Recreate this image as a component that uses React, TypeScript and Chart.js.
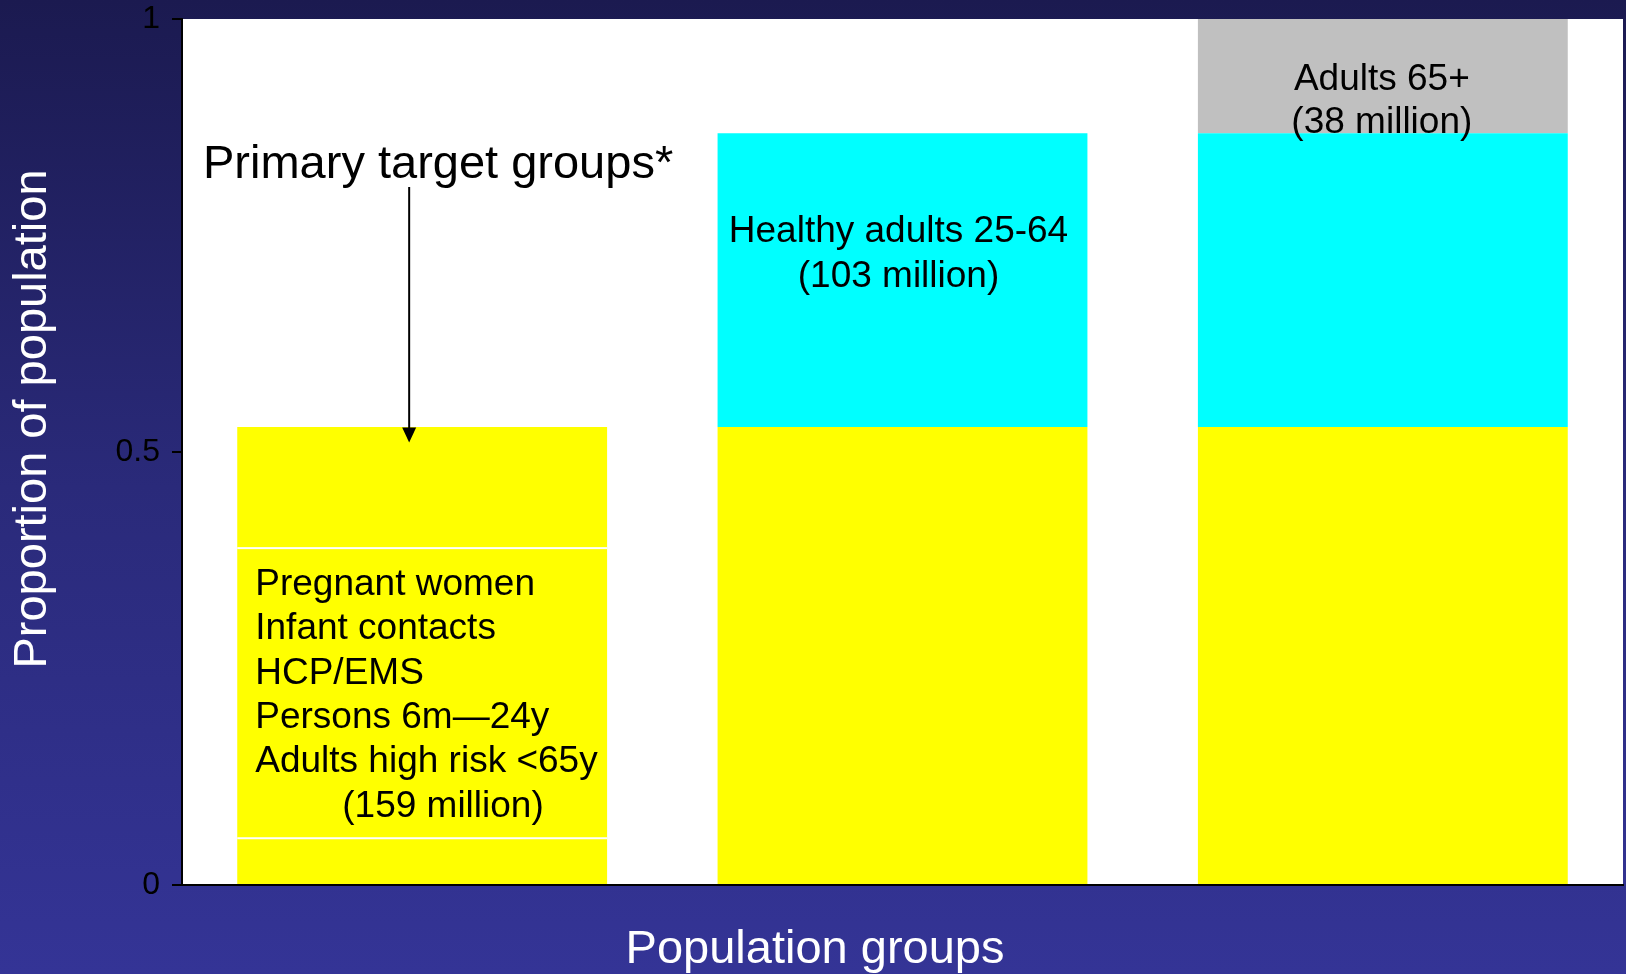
import React, { useEffect, useRef } from "react";
import { Chart, registerables } from "chart.js";

Chart.register(...registerables);

// ---- data ----
const categories = ["Primary target groups", "Healthy adults 25-64", "Adults 65+"];
const primaryTarget = [0.529, 0.529, 0.529];
const healthyAdults = [0, 0.339, 0.339];
const adults65 = [0, 0, 0.132];
const primarySeparators = [0.054, 0.389];
const yTickValues = [0, 0.5, 1];

const primaryLines = ["Pregnant women", "Infant contacts", "HCP/EMS", "Persons 6m\u201424y", "Adults high risk <65y"];
const primaryTotal = "(159 million)";
const healthyLines = ["Healthy adults 25-64", "(103 million)"];
const olderLines = ["Adults 65+", "(38 million)"];
const calloutText = "Primary target groups*";
const yTitle = "Proportion of population";
const xTitle = "Population groups";

const FONT = "'Liberation Sans', Arial, Helvetica, sans-serif";

const decorPlugin = {
  id: "decor",
  beforeDraw(chart: any) {
    const { ctx, width, height, chartArea } = chart;
    ctx.save();
    const g = ctx.createLinearGradient(0, 0, 0, height);
    g.addColorStop(0, "#1b1a50");
    g.addColorStop(0.5, "#2a2a7a");
    g.addColorStop(1, "#343496");
    ctx.fillStyle = g;
    ctx.fillRect(0, 0, width, height);
    ctx.fillStyle = "#ffffff";
    ctx.fillRect(chartArea.left, chartArea.top, chartArea.right - chartArea.left, chartArea.bottom - chartArea.top);
    ctx.restore();
  },
  afterDatasetsDraw(chart: any) {
    const { ctx, chartArea } = chart;
    const y = chart.scales.y;
    const bars = chart.getDatasetMeta(0).data;
    const b0 = bars[0];
    const b1 = bars[1];
    const b2 = bars[2];
    ctx.save();
    // white separators in first bar
    ctx.fillStyle = "#ffffff";
    primarySeparators.forEach((v) => {
      const py = y.getPixelForValue(v);
      ctx.fillRect(b0.x - b0.width / 2, py - 1, b0.width, 2);
    });

    ctx.fillStyle = "#000000";
    ctx.textBaseline = "alphabetic";
    ctx.font = `37px ${FONT}`;

    // first bar text
    ctx.textAlign = "left";
    const left0 = b0.x - b0.width / 2 + 18;
    const base0 = y.getPixelForValue(0.335);
    const lh = 44.4;
    primaryLines.forEach((t, i) => ctx.fillText(t, left0, base0 + i * lh));
    ctx.fillText(primaryTotal, left0 + 87, base0 + primaryLines.length * lh);

    // second bar text
    ctx.textAlign = "center";
    const base1 = y.getPixelForValue(0.7425);
    healthyLines.forEach((t, i) => ctx.fillText(t, b1.x - 4, base1 + i * 45));

    // third bar text
    const base2 = y.getPixelForValue(0.918);
    olderLines.forEach((t, i) => ctx.fillText(t, b2.x - 1, base2 + i * 43));

    // callout
    ctx.textAlign = "left";
    ctx.font = `47px ${FONT}`;
    ctx.fillText(calloutText, chartArea.left + 21, y.getPixelForValue(0.8164));

    // arrow
    const ax = b0.x - 13;
    const ay0 = y.getPixelForValue(0.806);
    const tip = y.getPixelForValue(0.511);
    ctx.strokeStyle = "#000000";
    ctx.lineWidth = 2;
    ctx.beginPath();
    ctx.moveTo(ax, ay0);
    ctx.lineTo(ax, tip - 14);
    ctx.stroke();
    ctx.beginPath();
    ctx.moveTo(ax - 7, tip - 15);
    ctx.lineTo(ax + 7, tip - 15);
    ctx.lineTo(ax, tip);
    ctx.closePath();
    ctx.fill();

    // axis titles
    ctx.fillStyle = "#ffffff";
    ctx.font = `47px ${FONT}`;
    ctx.textAlign = "center";
    ctx.fillText(xTitle, 815, chart.height - 11);
    ctx.translate(46, 419);
    ctx.rotate(-Math.PI / 2);
    ctx.fillText(yTitle, 0, 0);
    ctx.restore();
  },
};

export default function App() {
  const ref = useRef<HTMLCanvasElement | null>(null);
  useEffect(() => {
    if (!ref.current) return;
    const chart = new Chart(ref.current, {
      type: "bar",
      data: {
        labels: categories,
        datasets: [
          { label: "Primary target groups", data: primaryTarget, backgroundColor: "#ffff00", borderWidth: 0 },
          { label: "Healthy adults 25-64", data: healthyAdults, backgroundColor: "#00ffff", borderWidth: 0 },
          { label: "Adults 65+", data: adults65, backgroundColor: "#c0c0c0", borderWidth: 0 },
        ],
      },
      options: {
        animation: false,
        responsive: false,
        maintainAspectRatio: false,
        devicePixelRatio: 1,
        events: [],
        layout: { padding: { left: 102, right: 3, top: 19, bottom: 69 } },
        plugins: { legend: { display: false }, tooltip: { enabled: false }, title: { display: false } },
        datasets: { bar: { categoryPercentage: 1, barPercentage: 0.77 } },
        scales: {
          x: {
            stacked: true,
            z: 1,
            grid: { display: false },
            ticks: { display: false },
            border: { display: true, color: "#000000", width: 2 },
            afterFit: (s: any) => { s.height = 20; s.paddingLeft = 0; s.paddingRight = 0; },
          },
          y: {
            stacked: true,
            min: 0,
            max: 1,
            z: 1,
            afterBuildTicks: (s: any) => { s.ticks = yTickValues.map((v) => ({ value: v })); },
            ticks: {
              color: "#000000",
              padding: 12,
              font: { family: FONT, size: 32 },
              callback: (v: any) => String(v),
            },
            grid: { drawOnChartArea: false, drawTicks: true, tickLength: 10, color: "#000000", lineWidth: 2 },
            border: { display: true, color: "#000000", width: 2 },
            afterFit: (s: any) => { s.width = 80; s.paddingTop = 0; s.paddingBottom = 0; },
          },
        },
      },
      plugins: [decorPlugin],
    });
    return () => chart.destroy();
  }, []);
  return (
    <div style={{ position: "fixed", left: 0, top: 0, width: 1626, height: 974 }}>
      <canvas ref={ref} width={1626} height={974} style={{ display: "block", width: 1626, height: 974 }} />
    </div>
  );
}
